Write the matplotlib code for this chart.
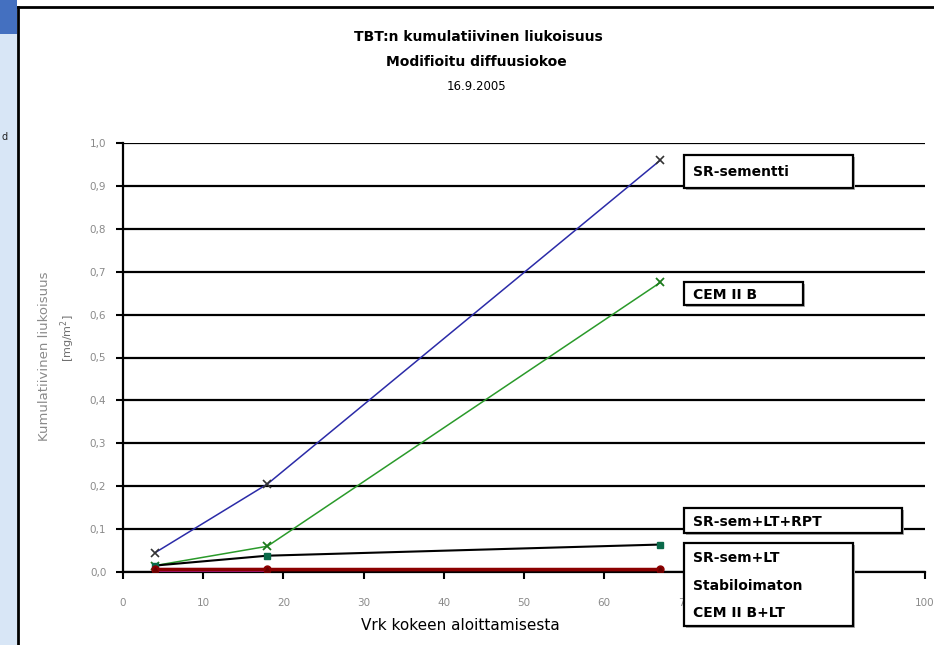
import matplotlib
matplotlib.use("Agg")
import matplotlib.pyplot as plt
from matplotlib.patches import Rectangle
from matplotlib.ticker import FuncFormatter
import numpy as np

plt.rcParams['font.family'] = ['DejaVu Sans']

# Measurement days and cumulative leaching (mg/m2)
days = [4, 18, 67]
sr_sementti = [0.045, 0.205, 0.96]
cem_ii_b = [0.015, 0.06, 0.675]
sr_lt_rpt = [0.015, 0.038, 0.064]
sr_lt = [0.005, 0.005, 0.005]
stabiloimaton_days = [4, 18]
stabiloimaton = [0.004, 0.004]
cem_ii_b_lt = [0.006, 0.006, 0.006]

x_ticks = list(range(0, 101, 10))
y_ticks = [round(v * 0.1, 1) for v in range(11)]

W, H = 934, 645
fig = plt.figure(figsize=(W / 100, H / 100), dpi=100)
fig.patch.set_facecolor('white')


def px(x0, y0, x1, y1):
    # pixel box (top-left origin) -> figure fraction rect
    return [x0 / W, 1 - y1 / H, (x1 - x0) / W, (y1 - y0) / H]


# window strip on the left
fig.patches.append(Rectangle((0, 0), 17 / W, 1, transform=fig.transFigure,
                             facecolor='#d8e6f6', edgecolor='none', zorder=0))
fig.patches.append(Rectangle((0, 1 - 34 / H), 17 / W, 34 / H, transform=fig.transFigure,
                             facecolor='#4470c0', edgecolor='none', zorder=1))
fig.text(1 / W, 1 - 137 / H, 'd', fontsize=7, va='center', ha='left', color='#222222')
# chart area border
fig.add_artist(plt.Line2D([18 / W, 18 / W], [0, 1 - 7 / H], transform=fig.transFigure,
                          color='black', lw=2))
fig.add_artist(plt.Line2D([18 / W, 1], [1 - 7 / H, 1 - 7 / H], transform=fig.transFigure,
                          color='black', lw=2))

ax = fig.add_axes(px(123, 143, 925, 572))
ax.set_xlim(0, 100)
ax.set_ylim(0, 1.0)
ax.set_xticks(x_ticks)
ax.set_yticks(y_ticks)
ax.yaxis.set_major_formatter(FuncFormatter(lambda v, p: f'{v:.1f}'.replace('.', ',')))
ax.yaxis.grid(True, color='black', lw=1.6)
ax.set_axisbelow(True)
for s in ['top', 'right']:
    ax.spines[s].set_visible(False)
for s in ['left', 'bottom']:
    ax.spines[s].set_linewidth(1.6)
ax.tick_params(axis='both', direction='out', length=5, width=1.5,
               labelsize=7.5, labelcolor='#8a8a8a')
ax.tick_params(axis='y', pad=7)
ax.tick_params(axis='x', pad=14)

ax.plot(days, sr_sementti, color='#2b2ba8', lw=1.1, marker='x', ms=6,
        mec='#333333', mew=1.2, zorder=5)
ax.plot(days, cem_ii_b, color='#2a9a2a', lw=1.1, marker='x', ms=6,
        mec='#1c7a1c', mew=1.3, zorder=5)
ax.plot(days, sr_lt_rpt, color='black', lw=1.5, marker='s', ms=4,
        mfc='#0a6a4a', mec='#0a6a4a', zorder=6)
ax.plot(stabiloimaton_days, stabiloimaton, color='#a020a0', lw=3, zorder=6)
ax.plot(days, cem_ii_b_lt, color='#8b0000', lw=2.5, marker='o', ms=5,
        mfc='#8b0000', mec='#8b0000', zorder=7)
ax.plot(days, sr_lt, color='#8b0000', lw=1, marker='^', ms=4,
        mfc='#6b0000', mec='#6b0000', zorder=7)

# titles
fig.text(478 / W, 1 - 37 / H, 'TBT:n kumulatiivinen liukoisuus', ha='center', va='center',
         fontsize=10, fontweight='bold')
fig.text(476 / W, 1 - 62 / H, 'Modifioitu diffuusiokoe', ha='center', va='center',
         fontsize=10, fontweight='bold')
fig.text(476 / W, 1 - 87 / H, '16.9.2005', ha='center', va='center', fontsize=8.5)
fig.text(460 / W, 1 - 625 / H, 'Vrk kokeen aloittamisesta', ha='center', va='center',
         fontsize=11)
fig.text(45 / W, 1 - 356 / H, 'Kumulatiivinen liukoisuus', rotation=90, ha='center',
         va='center', fontsize=9.5, color='#8a8a8a')
fig.text(68 / W, 1 - 338 / H, '[mg/m$^2$]', rotation=90, ha='center', va='center',
         fontsize=8, color='#707070')


def label_box(x0, y0, x1, y1, text, line_gap=None):
    fig.patches.append(Rectangle((x0 / W + 2 / W, 1 - y1 / H - 2 / H), (x1 - x0) / W,
                                 (y1 - y0) / H, transform=fig.transFigure,
                                 facecolor='#b0b0b0', edgecolor='none', zorder=8))
    fig.patches.append(Rectangle((x0 / W, 1 - y1 / H), (x1 - x0) / W, (y1 - y0) / H,
                                 transform=fig.transFigure, facecolor='white',
                                 edgecolor='black', lw=1.6, zorder=9))
    lines = text.split('\n')
    if line_gap is None:
        line_gap = (y1 - y0) / len(lines)
    for i, ln in enumerate(lines):
        yc = y0 + line_gap * (i + 0.5) + 1
        fig.text((x0 + 9) / W, 1 - yc / H, ln, ha='left', va='center', fontsize=10,
                 fontweight='bold', zorder=10)


label_box(684, 155, 853, 188, 'SR-sementti')
label_box(684, 282, 803, 305, 'CEM II B')
label_box(684, 508, 902, 533, 'SR-sem+LT+RPT')
label_box(684, 543, 853, 626, 'SR-sem+LT\nStabiloimaton\nCEM II B+LT')

fig.savefig('out.png', dpi=100)
